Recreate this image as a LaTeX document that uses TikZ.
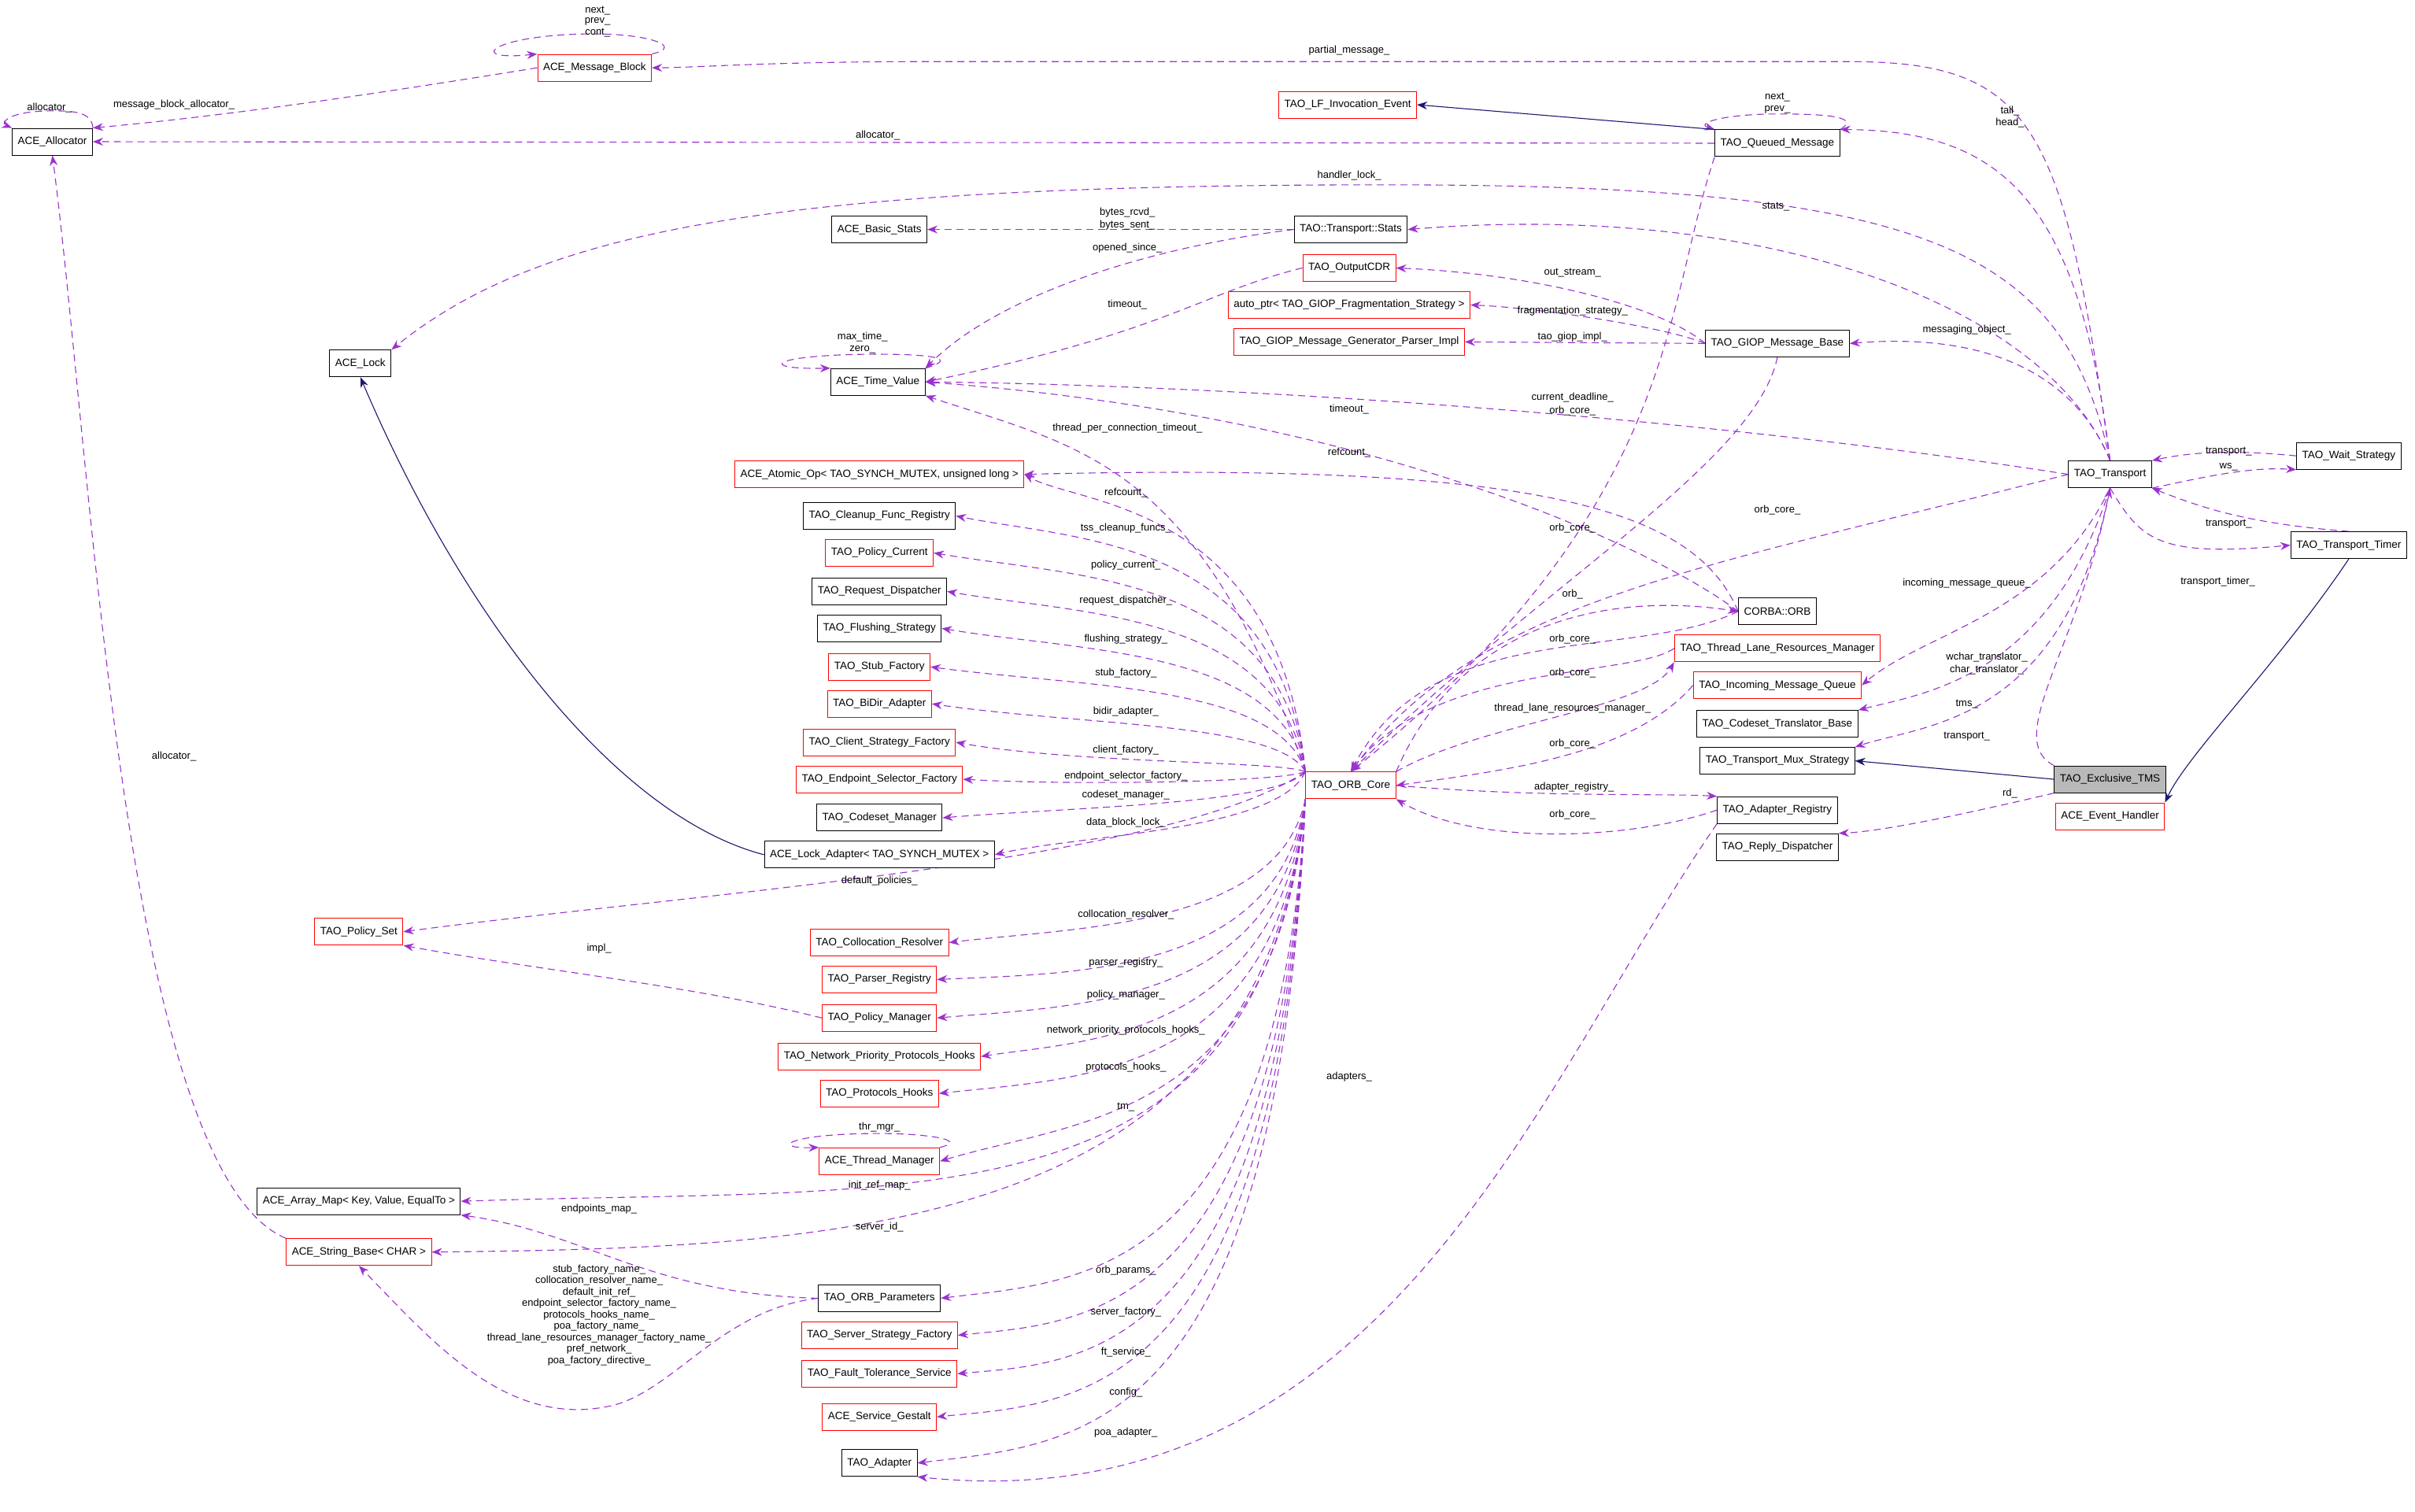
\documentclass[tikz,border=0pt]{standalone}
\usepackage{fontspec}
\setmainfont{Liberation Sans}
\usetikzlibrary{arrows.meta,backgrounds}
\definecolor{refcol}{HTML}{9A32CD}
\definecolor{inhcol}{HTML}{191970}
\tikzset{
  cls/.style={draw=black,fill=white,line width=1pt,font=\fontsize{13.5}{15}\selectfont,inner xsep=7pt,minimum height=34pt},
  clsred/.style={cls,draw=red},
  ref/.style={draw=refcol,line width=1.1pt,dash pattern=on 9pt off 6pt,-{Stealth[length=13pt,width=10pt]}},
  inh/.style={draw=inhcol,line width=1.1pt,-{Stealth[length=13pt,width=10pt]}},
  lbl/.style={font=\fontsize{13}{14}\selectfont,inner sep=1pt}
}
\begin{document}
\begin{tikzpicture}[x=1.957pt,y=-1.957pt]
\useasboundingbox (0,0) rectangle (1568,981.6);
% classes
\node[clsred] (mblock) at (386,44) {ACE\_Message\_Block};
\node[cls] (alloc) at (34,92) {ACE\_Allocator};
\node[clsred] (lfevent) at (875,68) {TAO\_LF\_Invocation\_Event};
\node[cls] (qmsg) at (1154,93) {TAO\_Queued\_Message};
\node[cls] (basicstats) at (571,149) {ACE\_Basic\_Stats};
\node[cls] (tstats) at (877,149) {TAO::Transport::Stats};
\node[clsred] (outcdr) at (876,174) {TAO\_OutputCDR};
\node[clsred] (fragptr) at (876,198) {auto\_ptr< TAO\_GIOP\_Fragmentation\_Strategy >};
\node[clsred] (giopimpl) at (876,222) {TAO\_GIOP\_Message\_Generator\_Parser\_Impl};
\node[cls] (giopbase) at (1154,223) {TAO\_GIOP\_Message\_Base};
\node[cls] (acelock) at (234,236) {ACE\_Lock};
\node[cls] (timeval) at (570,248) {ACE\_Time\_Value};
\node[clsred] (atomicop) at (571,308) {ACE\_Atomic\_Op< TAO\_SYNCH\_MUTEX, unsigned long >};
\node[cls] (cleanup) at (571,335) {TAO\_Cleanup\_Func\_Registry};
\node[clsred] (polcur) at (571,359) {TAO\_Policy\_Current};
\node[cls] (reqdisp) at (571,384) {TAO\_Request\_Dispatcher};
\node[cls] (flushing) at (571,408) {TAO\_Flushing\_Strategy};
\node[clsred] (stubfac) at (571,433) {TAO\_Stub\_Factory};
\node[clsred] (bidir) at (571,457) {TAO\_BiDir\_Adapter};
\node[clsred] (clientfac) at (571,482) {TAO\_Client\_Strategy\_Factory};
\node[clsred] (epsel) at (571,506) {TAO\_Endpoint\_Selector\_Factory};
\node[cls] (codesetmgr) at (571,531) {TAO\_Codeset\_Manager};
\node[cls] (lockadapter) at (571,555) {ACE\_Lock\_Adapter< TAO\_SYNCH\_MUTEX >};
\node[clsred] (polset) at (233,605) {TAO\_Policy\_Set};
\node[clsred] (colloc) at (571,612) {TAO\_Collocation\_Resolver};
\node[clsred] (parser) at (571,636) {TAO\_Parser\_Registry};
\node[clsred] (polmgr) at (571,661) {TAO\_Policy\_Manager};
\node[clsred] (netprio) at (571,686) {TAO\_Network\_Priority\_Protocols\_Hooks};
\node[clsred] (prothooks) at (571,710) {TAO\_Protocols\_Hooks};
\node[clsred] (thrmgr) at (571,754) {ACE\_Thread\_Manager};
\node[cls] (arraymap) at (233,780) {ACE\_Array\_Map< Key, Value, EqualTo >};
\node[clsred] (strbase) at (233,813) {ACE\_String\_Base< CHAR >};
\node[cls] (orbparams) at (571,843) {TAO\_ORB\_Parameters};
\node[clsred] (serverfac) at (571,867) {TAO\_Server\_Strategy\_Factory};
\node[clsred] (ftservice) at (571,892) {TAO\_Fault\_Tolerance\_Service};
\node[clsred] (gestalt) at (571,920) {ACE\_Service\_Gestalt};
\node[cls] (adapter) at (571,950) {TAO\_Adapter};
\node[clsred] (core) at (877,510) {TAO\_ORB\_Core};
\node[cls] (corbaorb) at (1154,397) {CORBA::ORB};
\node[clsred] (tlrm) at (1154,421) {TAO\_Thread\_Lane\_Resources\_Manager};
\node[clsred] (imq) at (1154,445) {TAO\_Incoming\_Message\_Queue};
\node[cls] (cstrans) at (1154,470) {TAO\_Codeset\_Translator\_Base};
\node[cls] (muxstrat) at (1154,494) {TAO\_Transport\_Mux\_Strategy};
\node[cls] (adreg) at (1154,526) {TAO\_Adapter\_Registry};
\node[cls] (replydisp) at (1154,550) {TAO\_Reply\_Dispatcher};
\node[cls] (transport) at (1370,308) {TAO\_Transport};
\node[cls] (waitstrat) at (1525,296) {TAO\_Wait\_Strategy};
\node[cls] (ttimer) at (1525,354) {TAO\_Transport\_Timer};
\node[cls,fill=gray!55] (excltms) at (1370,506) {TAO\_Exclusive\_TMS};
\node[clsred] (evhandler) at (1370,530) {ACE\_Event\_Handler};
% labels
\foreach \n/\x/\y/\t in {
  lpartial/876/33/partial\_message\_, lalloc/570/88/allocator\_, lmba/113/68/message\_block\_allocator\_,
  lalself/32/70/allocator\_, lhandler/876/114/handler\_lock\_, lstats/1153/134/stats\_,
  lrcvd/732/138/bytes\_rcvd\_, lsent/732/146/bytes\_sent\_, lopened/732/161/opened\_since\_,
  ltimeoutc/732/198/timeout\_, lmax/560/219/max\_time\_, lzero/560/227/zero\_,
  lthrpc/732/278/thread\_per\_connection\_timeout\_, ltimeouto/876/266/timeout\_, lrefo/876/294/refcount\_,
  lout/1021/177/out\_stream\_, lfrag/1021/202/fragmentation\_strategy\_, lgiop/1021/219/tao\_giop\_impl\_,
  lmsgobj/1277/214/messaging\_object\_, ldead/1021/258/current\_deadline\_, loc1/1021/267/orb\_core\_,
  loc2/1021/343/orb\_core\_, loc3/1021/415/orb\_core\_, loc4/1021/437/orb\_core\_, loc5/1021/483/orb\_core\_,
  loc6/1021/529/orb\_core\_, locT/1154/331/orb\_core\_, lorb/1021/386/orb\_, ltlrm/1021/460/thread\_lane\_resources\_manager\_,
  ladreg/1022/511/adapter\_registry\_, ltail/1305/72/tail\_, lhead/1305/80/head\_, lqnext/1154/63/next\_, lqprev/1154/71/prev\_,
  lmnext/388/7/next\_, lmprev/388/14/prev\_, lmcont/388/21/cont\_, lwt/1447/293/transport\_, lws/1447/303/ws\_,
  ltt/1447/340/transport\_, lttimer/1440/378/transport\_timer\_, limq/1277/379/incoming\_message\_queue\_,
  lwchar/1290/427/wchar\_translator\_, lchar/1290/435/char\_translator\_, ltms/1277/457/tms\_, ltransp/1277/478/transport\_,
  lrd/1305/515/rd\_, lallocs/113/491/allocator\_, limpl/389/616/impl\_, lepmap/389/785/endpoints\_map\_,
  lthr/571/732/thr\_mgr\_, ladapters/876/699/adapters\_, ldefpol/571/572/default\_policies\_,
  linit/571/770/init\_ref\_map\_, lsrvid/571/797/server\_id\_}
  \node[lbl] (\n) at (\x,\y) {\t};
\node[lbl,align=center,font=\fontsize{13}{14.5}\selectfont] (lparams) at (389,854) {stub\_factory\_name\_\\collocation\_resolver\_name\_\\default\_init\_ref\_\\endpoint\_selector\_factory\_name\_\\protocols\_hooks\_name\_\\poa\_factory\_name\_\\thread\_lane\_resources\_manager\_factory\_name\_\\pref\_network\_\\poa\_factory\_directive\_};
\foreach \n/\y/\t in {lr1/320/refcount\_, lr2/343/tss\_cleanup\_funcs\_, lr3/367/policy\_current\_, lr4/390/request\_dispatcher\_,
  lr5/415/flushing\_strategy\_, lr6/437/stub\_factory\_, lr7/462/bidir\_adapter\_, lr8/487/client\_factory\_,
  lr9/504/endpoint\_selector\_factory\_, lr10/516/codeset\_manager\_, lr11/534/data\_block\_lock\_,
  lr12/594/collocation\_resolver\_, lr13/625/parser\_registry\_, lr14/646/policy\_manager\_,
  lr15/669/network\_priority\_protocols\_hooks\_, lr16/693/protocols\_hooks\_, lr17/719/tm\_,
  lr18/825/orb\_params\_, lr19/852/server\_factory\_, lr20/878/ft\_service\_, lr21/904/config\_, lr22/930/poa\_adapter\_}
  \node[lbl] (\n) at (731,\y) {\t};
\begin{scope}[on background layer]
\fill[white] (0,0) rectangle (1568,981.6);
% ORB_Core members on the left
\foreach \t/\y in {atomicop/326,cleanup/349,polcur/373,reqdisp/397,flushing/421,stubfac/444,bidir/469,clientfac/494,epsel/508,codesetmgr/522,lockadapter/540}
  \draw[ref] (core.north west) .. controls (830,\y) and (700,\y+2) .. (\t.east);
\foreach \t/\y in {colloc/602,parser/632,polmgr/653,netprio/676,prothooks/700,thrmgr/727,orbparams/832,serverfac/859,ftservice/885,gestalt/911,adapter/937}
  \draw[ref] (core.south west) .. controls (830,\y) and (700,\y) .. (\t.east);
\draw[ref] (core.north west) .. controls (760,560) and (450,580) .. (polset.east);
\draw[ref] (core.south west) .. controls (820,800) and (600,770) .. (arraymap.east);
\draw[ref] (core.south west) .. controls (820,800) and (550,810) .. (strbase.east);
\draw[ref] (core.north west) .. controls (780,300) and (700,290) .. (timeval.south east);
% self references
\draw[ref] (mblock.north east) .. controls (445,30) and (420,22) .. (386,22) .. controls (320,22) and (300,40) .. (mblock.north west);
\draw[ref] (alloc.north east) .. controls (60,72) and (45,72) .. (34,72) .. controls (5,72) and (0,80) .. (alloc.north west);
\draw[ref] (qmsg.north east) .. controls (1210,75) and (1180,74) .. (1154,74) .. controls (1120,74) and (1100,80) .. (qmsg.north west);
\draw[ref] (timeval.north east) .. controls (625,232) and (600,230) .. (570,230) .. controls (500,230) and (490,240) .. (timeval.north west);
\draw[ref] (thrmgr.north east) .. controls (630,740) and (600,736) .. (571,736) .. controls (510,736) and (500,746) .. (thrmgr.north west);
% ACE side
\draw[ref] (mblock.west) .. controls (250,60) and (150,75) .. (alloc.north east);
\draw[ref] (qmsg.west) -- (alloc.east);
\draw[ref] (strbase.north west) .. controls (80,760) and (60,300) .. (alloc.south);
\draw[ref] (tstats.west) -- (basicstats.east);
\draw[ref] (tstats.west) .. controls (750,160) and (650,190) .. (timeval.north east);
\draw[ref] (outcdr.west) .. controls (780,190) and (760,215) .. (timeval.east);
\draw[ref] (corbaorb.west) .. controls (1080,360) and (900,270) .. (timeval.east);
\draw[ref] (corbaorb.west) .. controls (1100,330) and (1000,300) .. (atomicop.east);
\draw[ref] (polmgr.west) .. controls (450,640) and (350,630) .. (polset.south east);
\draw[ref] (orbparams.west) .. controls (420,840) and (380,800) .. (arraymap.south east);
\draw[ref] (orbparams.west) .. controls (470,850) and (440,900) .. (400,912) .. controls (330,930) and (280,870) .. (strbase.south);
% GIOP message base
\draw[ref] (giopbase.west) .. controls (1080,200) and (1000,178) .. (outcdr.east);
\draw[ref] (giopbase.west) .. controls (1080,212) and (1000,200) .. (fragptr.east);
\draw[ref] (giopbase.west) -- (giopimpl.east);
% orb core from the right
\draw[ref] (qmsg.south west) .. controls (1080,200) and (1090,330) .. (core.north);
\draw[ref] (giopbase.south) .. controls (1140,300) and (1000,380) .. (core.north);
\draw[ref] (transport.west) .. controls (1100,370) and (960,390) .. (core.north);
\draw[ref] (corbaorb.west) .. controls (1060,430) and (930,400) .. (core.north);
\draw[ref] (tlrm.west) .. controls (1060,440) and (930,430) .. (core.north);
\draw[ref] (imq.west) .. controls (1060,490) and (980,500) .. (core.east);
\draw[ref] (adreg.west) .. controls (1060,545) and (960,550) .. (core.south east);
\draw[ref] (core.north east) .. controls (950,400) and (1050,385) .. (corbaorb.west);
\draw[ref] (core.north east) .. controls (960,470) and (1070,460) .. (tlrm.south west);
\draw[ref] (core.east) .. controls (1000,518) and (1080,515) .. (adreg.north west);
\draw[ref] (adreg.south west) .. controls (1000,700) and (900,990) .. (adapter.south east);
% TAO_Transport
\draw[ref] (transport.north) .. controls (1340,80) and (1320,40) .. (1200,40) -- (600,40) .. controls (500,40) and (450,44) .. (mblock.east);
\draw[ref] (transport.north) .. controls (1350,130) and (1300,85) .. (qmsg.north east);
\draw[ref] (transport.north) .. controls (1340,160) and (1250,120) .. (900,120) .. controls (500,120) and (350,150) .. (acelock.north east);
\draw[ref] (transport.north) .. controls (1330,200) and (1150,130) .. (tstats.east);
\draw[ref] (transport.north) .. controls (1350,250) and (1300,215) .. (giopbase.east);
\draw[ref] (transport.west) .. controls (1100,270) and (800,250) .. (timeval.east);
\draw[ref] (waitstrat.west) .. controls (1460,293) and (1430,292) .. (transport.north east);
\draw[ref] (transport.south east) .. controls (1430,310) and (1460,303) .. (waitstrat.south west);
\draw[ref] (ttimer.north) .. controls (1460,340) and (1430,330) .. (transport.south east);
\draw[ref] (transport.south) .. controls (1390,350) and (1400,362) .. (ttimer.west);
\draw[ref] (transport.south) .. controls (1330,400) and (1250,410) .. (imq.east);
\draw[ref] (transport.south) .. controls (1330,440) and (1250,450) .. (cstrans.north east);
\draw[ref] (transport.south) .. controls (1340,470) and (1250,470) .. (muxstrat.north east);
\draw[ref] (excltms.north west) .. controls (1300,480) and (1350,420) .. (transport.south);
\draw[ref] (excltms.south west) .. controls (1270,530) and (1220,540) .. (replydisp.north east);
% inheritance
\draw[inh] (qmsg.north west) -- (lfevent.east);
\draw[inh] (lockadapter.west) .. controls (400,530) and (300,400) .. (acelock.south);
\draw[inh] (excltms.west) -- (muxstrat.east);
\draw[inh] (ttimer.south) .. controls (1480,430) and (1420,490) .. (evhandler.north east);
\end{scope}
\end{tikzpicture}
\end{document}
